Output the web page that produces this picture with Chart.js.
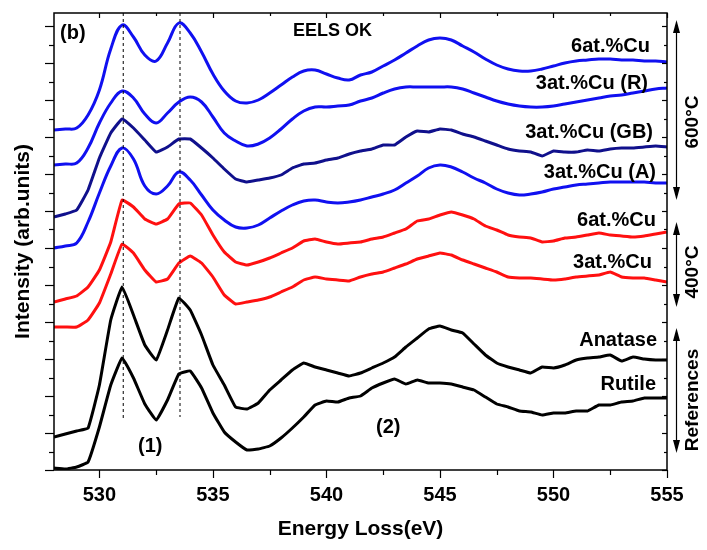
<!DOCTYPE html>
<html>
<head>
<meta charset="utf-8">
<script src="https://cdn.jsdelivr.net/npm/chart.js@4.4.1/dist/chart.umd.min.js"></script>
<style>
	html, body { margin: 0; padding: 0; background: #fff; }
	canvas { display: block; }
</style>
</head>
<body>
<canvas id="eelsChart" width="707" height="550"></canvas>
<script>
// energy grid (eV) shared by every spectrum
const energy = [528, 528.5, 529, 529.5, 530, 530.5, 531, 531.5, 532, 532.5, 533, 533.5, 534, 534.5, 535, 535.5,
	536, 536.5, 537, 537.5, 538, 538.5, 539, 539.5, 540, 540.5, 541, 541.5, 542, 542.5, 543, 543.5, 544, 544.5,
	545, 545.5, 546, 546.5, 547, 547.5, 548, 548.5, 549, 549.5, 550, 550.5, 551, 551.5, 552, 552.5, 553, 553.5,
	554, 554.5, 555];

// 600°C spectra (offset, arb. units)
const cu6At600 = [340, 341, 342, 355, 380, 421, 445, 433, 415, 409, 427, 447, 437, 418, 396, 379, 369, 367, 370, 377,
	385, 393, 399, 400, 396, 392, 390, 395, 398, 404, 410, 417, 424, 430, 432, 430, 424, 418, 411, 405, 401, 399, 399,
	401, 404, 407, 409, 410, 411, 411, 410, 410, 409, 409, 408];
const cu3R = [305, 306, 307, 322, 347, 367, 379, 372, 356, 347, 357, 368, 373, 368, 353, 337, 329, 324, 326, 332,
	341, 351, 359, 363, 363, 364, 365, 369, 372, 377, 381, 383, 383, 383, 383, 383, 381, 377, 373, 369, 366, 364, 363,
	363, 364, 366, 368, 370, 372, 374, 375, 377, 379, 381, 382];
const cu3GB = [253, 256, 260, 280, 312, 337, 351, 342, 330, 318, 323, 331, 331, 322, 312, 301, 291, 288, 290, 292,
	295, 302, 306, 307, 310, 312, 316, 319, 321, 325, 325, 333, 339, 338, 341, 340, 336, 333, 329, 325, 321, 319, 318,
	314, 319, 318, 318, 320, 319, 321, 322, 322, 323, 324, 323];
const cu3A = [222, 224, 227, 248, 277, 304, 322, 311, 284, 276, 284, 298, 290, 275, 260, 250, 243, 242, 245, 252,
	259, 265, 269, 270, 268, 267, 268, 270, 273, 276, 280, 287, 294, 302, 305, 303, 298, 292, 287, 281, 277, 275, 276,
	278, 281, 283, 285, 286, 287, 288, 288, 288, 288, 287, 287];

// 400°C spectra
const cu6At400 = [168, 171, 174, 183, 200, 228, 270, 263, 251, 246, 251, 266, 267, 255, 235, 218, 208, 205, 208, 212,
	217, 222, 229, 231, 228, 226, 227, 228, 231, 233, 237, 241, 249, 251, 255, 258, 255, 251, 244, 240, 235, 233, 232,
	228, 229, 232, 233, 235, 237, 235, 234, 233, 234, 236, 238];
const cu3At400 = [143, 143, 143, 150, 167, 196, 226, 217, 200, 188, 191, 207, 214, 207, 193, 175, 166, 168, 170, 173,
	178, 183, 190, 193, 191, 190, 189, 193, 196, 198, 202, 206, 211, 214, 217, 215, 210, 206, 202, 198, 193, 192, 192,
	191, 190, 191, 193, 194, 195, 198, 193, 192, 192, 190, 188];

// references
const anatase = [33, 36, 39, 42, 85, 150, 183, 155, 125, 110, 140, 172, 160, 135, 105, 85, 63, 61, 67, 80, 90, 100,
	107, 103, 100, 97, 94, 97, 102, 107, 113, 123, 132, 141, 144, 140, 137, 126, 115, 107, 103, 100, 97, 103, 102, 105,
	110, 112, 113, 115, 109, 113, 111, 110, 110];
const rutile = [2, 1, 3, 8, 43, 85, 112, 92, 66, 50, 70, 96, 99, 82, 57, 38, 28, 20, 21, 24, 32, 42, 53, 65, 69, 68,
	72, 74, 82, 87, 91, 86, 90, 87, 87, 86, 83, 80, 73, 66, 63, 59, 58, 55, 57, 57, 59, 59, 65, 65, 68, 69, 72, 72, 72];

// dashed markers at the two peaks
const peakEnergies = [531.05, 533.55];
const peakMarkBottoms = [50, 53];

const xTickLabels = [530, 535, 540, 545, 550, 555];
const seriesNames = ['6at.%Cu', '3at.%Cu (R)', '3at.%Cu (GB)', '3at.%Cu (A)', '6at.%Cu', '3at.%Cu', 'Anatase', 'Rutile'];

const Y_MAX = 457;
const FONT = "'Liberation Sans', Arial, sans-serif";

function toPoints(values) {
	return values.map((v, i) => ({ x: energy[i], y: v }));
}

function spectrum(values, color, smooth) {
	return {
		data: toPoints(values),
		borderColor: color,
		borderWidth: 3,
		pointRadius: 0,
		tension: smooth ? 0.4 : 0.1,
		fill: false,
	};
}

const markerSets = peakEnergies.map((e, i) => ({
	data: [{ x: e, y: Y_MAX }, { x: e, y: peakMarkBottoms[i] }],
	borderColor: '#000',
	borderWidth: 1,
	borderDash: [3, 3],
	pointRadius: 0,
	fill: false,
}));

const decor = {
	id: 'decor',
	afterDraw(chart) {
		const { ctx, chartArea: a, scales: { x } } = chart;
		const line = (x1, y1, x2, y2) => {
			ctx.beginPath();
			ctx.moveTo(x1, y1);
			ctx.lineTo(x2, y2);
			ctx.stroke();
		};
		ctx.save();
		ctx.strokeStyle = '#000';
		ctx.lineWidth = 1.5;
		ctx.strokeRect(a.left, a.top, a.right - a.left, a.bottom - a.top);

		ctx.lineWidth = 1.2;
		for (let v = 530; v <= 555; v += 2.5) {
			const px = Math.round(x.getPixelForValue(v)) + 0.5;
			const major = v % 5 === 0;
			line(px, a.bottom, px, a.bottom + (major ? 8 : 5));
			line(px, a.top, px, a.top + (major ? 5 : 3));
		}
		const h = a.bottom - a.top;
		for (let k = 0; k * 18.5 <= Y_MAX; k++) {
			const py = Math.round(a.bottom - (k * 18.5) / Y_MAX * h) + 0.5;
			const major = k % 2 === 0;
			line(a.left, py, a.left - (major ? 9 : 5), py);
			line(a.right, py, a.right - (major ? 5 : 3), py);
		}

		// labels
		ctx.fillStyle = '#000';
		ctx.textBaseline = 'middle';
		ctx.font = 'bold 20px ' + FONT;
		ctx.textAlign = 'right';
		const labelSpots = [[650, 46], [648, 83], [653, 132], [656, 172], [656, 220], [652, 262], [657, 340], [656, 384]];
		seriesNames.forEach((name, i) => ctx.fillText(name, labelSpots[i][0], labelSpots[i][1]));

		ctx.textAlign = 'left';
		ctx.fillText('(b)', 60, 33);
		ctx.fillText('(1)', 138, 446);
		ctx.fillText('(2)', 376, 427);
		ctx.font = 'bold 18px ' + FONT;
		ctx.fillText('EELS OK', 293, 31);

		// temperature brackets
		const arrow = (xx, y1, y2) => {
			ctx.lineWidth = 1.2;
			line(xx, y1 + 8, xx, y2 - 8);
			[[y1, 1], [y2, -1]].forEach(([tip, dir]) => {
				ctx.beginPath();
				ctx.moveTo(xx, tip);
				ctx.lineTo(xx - 3.5, tip + dir * 13);
				ctx.lineTo(xx + 3.5, tip + dir * 13);
				ctx.closePath();
				ctx.fill();
			});
		};
		arrow(676.5, 20, 200);
		arrow(676.5, 222, 307);
		arrow(676.5, 328, 453);

		ctx.font = 'bold 19px ' + FONT;
		ctx.textAlign = 'center';
		[['600°C', 122], ['400°C', 272], ['References', 400]].forEach(([t, cy]) => {
			ctx.save();
			ctx.translate(693, cy);
			ctx.rotate(-Math.PI / 2);
			ctx.fillText(t, 0, 0);
			ctx.restore();
		});
		ctx.restore();
	},
};

const ctx = document.getElementById('eelsChart').getContext('2d');
const eelsChart = new Chart(ctx, {
	type: 'line',
	data: {
		datasets: [
			...markerSets,
			spectrum(cu6At600, '#1010F0', true),
			spectrum(cu3R, '#1010F0', true),
			spectrum(cu3GB, '#10108C', false),
			spectrum(cu3A, '#1010F0', true),
			spectrum(cu6At400, '#FF1010', false),
			spectrum(cu3At400, '#FF1010', false),
			spectrum(anatase, '#000000', false),
			spectrum(rutile, '#000000', false),
		],
	},
	options: {
		responsive: false,
		animation: false,
		layout: { padding: { left: 0, right: 40, top: 13, bottom: 0 } },
		plugins: { legend: { display: false }, tooltip: { enabled: false } },
		scales: {
			x: {
				type: 'linear',
				min: 528,
				max: 555,
				afterBuildTicks: (scale) => {
					scale.ticks = xTickLabels.map((v) => ({ value: v }));
				},
				afterFit: (scale) => { scale.height = 80; },
				grid: { display: false, drawTicks: false },
				border: { display: false },
				ticks: {
					autoSkip: false,
					maxRotation: 0,
					padding: 13,
					color: '#000',
					font: { family: FONT, size: 20, weight: 'bold' },
				},
				title: {
					display: true,
					text: 'Energy Loss(eV)',
					color: '#000',
					font: { family: FONT, size: 21, weight: 'bold' },
					padding: { top: 0, bottom: 8 },
				},
			},
			y: {
				min: 0,
				max: Y_MAX,
				afterFit: (scale) => { scale.width = 54; },
				grid: { display: false, drawTicks: false },
				border: { display: false },
				ticks: { display: false },
				title: {
					display: true,
					text: 'Intensity (arb.units)',
					color: '#000',
					font: { family: FONT, size: 21, weight: 'bold' },
					padding: { top: 11, bottom: 0 },
				},
			},
		},
	},
	plugins: [decor],
});
</script>
</body>
</html>
